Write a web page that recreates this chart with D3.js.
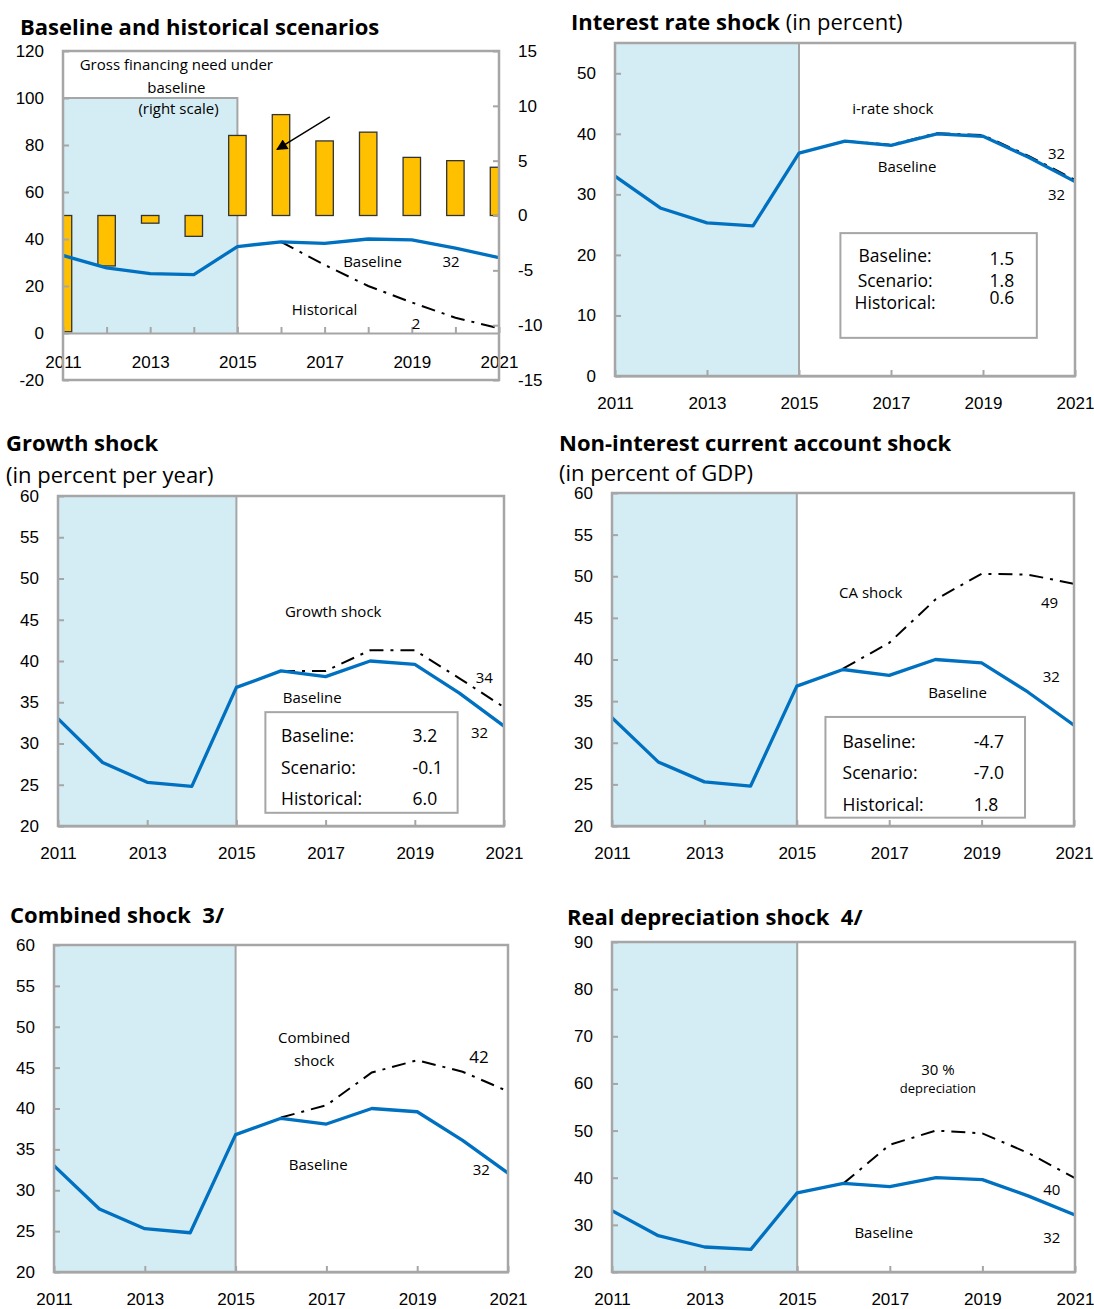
<!DOCTYPE html>
<html>
<head>
<meta charset="utf-8">
<script src="https://cdn.jsdelivr.net/npm/d3@7"></script>
<style>
  body { margin: 0; background: #fff; }
  svg { font-family: "Open Sans", "Noto Sans", sans-serif; }
  text { white-space: pre; }
</style>
</head>
<body>
<svg id="chart" width="1094" height="1309"></svg>
<script>
// ---- data ----
var years = [2011, 2012, 2013, 2014, 2015, 2016, 2017, 2018, 2019, 2020, 2021];
var baseline = [33.0, 27.7, 25.3, 24.8, 36.8, 38.8, 38.1, 40.0, 39.6, 36.1, 32.1];
var grossFinancing = [-10.6, -4.6, -0.7, -1.9, 7.3, 9.2, 6.8, 7.6, 5.3, 5.0, 4.4]; // right scale
var shockYears = [2016, 2017, 2018, 2019, 2020, 2021];
var historical = [38.8, 29.0, 20.0, 13.0, 6.5, 2.0];
var irateShock = [38.8, 38.2, 40.1, 39.8, 36.3, 32.4];
var growthShock = [38.8, 38.8, 41.3, 41.3, 37.9, 34.4];
var caShock = [38.9, 42.0, 47.2, 50.3, 50.2, 49.1];
var combinedShock = [38.9, 40.4, 44.4, 45.9, 44.5, 42.1];
var deprShock = [38.8, 47.0, 50.0, 49.4, 45.2, 39.9];
var labelYears = [2011, 2013, 2015, 2017, 2019, 2021];

var frameCol = "#a6a6a6", shadeCol = "#d4edf4", blue = "#0070c0", gold = "#ffc000";
var dashDot = "14,7,3,7";
var plain = function(d) { return String(d); };   // keep hyphen minus like the original

var svg = d3.select("#chart");
var defs = svg.append("defs");
defs.append("marker").attr("id", "arrow")
  .attr("viewBox", "0 0 10 10").attr("refX", 9).attr("refY", 5)
  .attr("markerWidth", 10).attr("markerHeight", 8).attr("orient", "auto")
  .append("path").attr("d", "M0,0L10,5L0,10z").attr("fill", "#000");

var panelNo = 0;
function drawPanel(o) {
  panelNo++;
  var g = svg.append("g");
  var x = d3.scaleLinear().domain([2011, 2021]).range([o.left, o.right]);
  var y = d3.scaleLinear().domain(o.yDomain).range([o.bottom, o.top]);

  defs.append("clipPath").attr("id", "clip" + panelNo)
    .append("rect").attr("x", o.left).attr("y", o.top)
    .attr("width", o.right - o.left).attr("height", o.bottom - o.top);

  // titles
  var t = g.append("text").attr("x", o.titleX).attr("y", o.titleY)
    .attr("dominant-baseline", "central").attr("font-size", 22).attr("fill", "#000");
  o.title.forEach(function(p) {
    t.append("tspan").attr("font-weight", p[1] ? 700 : 400).text(p[0]);
  });
  if (o.subtitle) {
    g.append("text").attr("x", o.titleX).attr("y", o.subY)
      .attr("dominant-baseline", "central").attr("font-size", 22).text(o.subtitle);
  }

  // shaded history
  var shadeTop = o.shadeTop != null ? o.shadeTop : o.yDomain[1];
  var shadeBot = o.shadeBot != null ? o.shadeBot : o.yDomain[0];
  g.append("rect")
    .attr("x", x(2011)).attr("y", y(shadeTop))
    .attr("width", x(2015) - x(2011)).attr("height", y(shadeBot) - y(shadeTop))
    .attr("fill", shadeCol);
  g.append("path")
    .attr("d", "M" + x(2011) + "," + y(shadeTop) + "H" + x(2015) + "V" + y(shadeBot))
    .attr("fill", "none").attr("stroke", frameCol).attr("stroke-width", 2);

  var plot = g.append("g").attr("clip-path", "url(#clip" + panelNo + ")");

  if (o.extra) o.extra(g, plot, x, y);

  // y axis
  var ya = g.append("g").attr("transform", "translate(" + o.left + ",0)")
    .call(d3.axisLeft(y).tickValues(o.yTicks).tickSize(-6).tickSizeOuter(0).tickPadding(19).tickFormat(plain));
  ya.select(".domain").remove();
  ya.selectAll("line").attr("stroke", frameCol).attr("stroke-width", 2);
  ya.selectAll("text").attr("font-size", 17).attr("fill", "#000").attr("font-family", null);

  // x axis
  var xAxisAt = o.xAxisAt != null ? y(o.xAxisAt) : o.bottom;
  var xa = g.append("g").attr("transform", "translate(0," + xAxisAt + ")")
    .call(d3.axisBottom(x).tickValues(o.xTicks).tickSize(-6).tickSizeOuter(0).tickPadding(o.xPad || 21)
      .tickFormat(function(d) { return labelYears.indexOf(d) >= 0 ? String(d) : ""; }));
  xa.select(".domain").attr("stroke", frameCol).attr("stroke-width", 2);
  xa.selectAll("line").attr("stroke", frameCol).attr("stroke-width", 2);
  xa.selectAll("text").attr("font-size", 17).attr("fill", "#000").attr("font-family", null);

  // scenario line (dash-dot) under the baseline
  if (o.shock) {
    plot.append("path")
      .datum(shockYears.map(function(yr, i) { return [yr, o.shock[i]]; }))
      .attr("d", d3.line().x(function(d) { return x(d[0]); }).y(function(d) { return y(d[1]); }))
      .attr("fill", "none").attr("stroke", "#000").attr("stroke-width", 2)
      .attr("stroke-dasharray", dashDot);
  }
  plot.append("path")
    .datum(years.map(function(yr, i) { return [yr, baseline[i]]; }))
    .attr("d", d3.line().x(function(d) { return x(d[0]); }).y(function(d) { return y(d[1]); }))
    .attr("fill", "none").attr("stroke", blue).attr("stroke-width", 3.3)
    .attr("stroke-linejoin", "round");

  // frame
  g.append("rect").attr("x", o.left).attr("y", o.top)
    .attr("width", o.right - o.left).attr("height", o.bottom - o.top)
    .attr("fill", "none").attr("stroke", frameCol).attr("stroke-width", 2.5);

  // labels
  (o.labels || []).forEach(function(l) {
    g.append("text").attr("x", x(l[1])).attr("y", y(l[2]))
      .attr("text-anchor", l[4] || "middle").attr("dominant-baseline", "central")
      .attr("font-size", l[3] || 15).text(l[0]);
  });

  // stats box
  if (o.box) {
    var b = o.box;
    g.append("rect").attr("x", x(b.x0)).attr("y", y(b.y1))
      .attr("width", x(b.x1) - x(b.x0)).attr("height", y(b.y0) - y(b.y1))
      .attr("fill", "#fff").attr("stroke", frameCol).attr("stroke-width", 2);
    b.rows.forEach(function(r) {
      g.append("text").attr("x", x(b.labelX)).attr("y", y(r[2]))
        .attr("text-anchor", b.anchor).attr("dominant-baseline", "central")
        .attr("font-size", 17.5).text(r[0]);
      g.append("text").attr("x", x(b.valueX)).attr("y", y(r[3]))
        .attr("text-anchor", b.anchor).attr("dominant-baseline", "central")
        .attr("font-size", 17.5).text(r[1]);
    });
  }
}

// ---- 1. Baseline and historical scenarios ----
drawPanel({
  left: 63, right: 499, top: 51, bottom: 380,
  yDomain: [-20, 120], yTicks: [-20, 0, 20, 40, 60, 80, 100, 120],
  xTicks: years, xAxisAt: 0, xPad: 23,
  shadeTop: 100, shadeBot: 0,
  title: [["Baseline and historical scenarios", true]], titleX: 20, titleY: 26,
  shock: historical,
  labels: [
    ["Gross financing need under", 2013.6, 114.4],
    ["baseline", 2013.6, 104.6],
    ["(right scale)", 2013.65, 95.7],
    ["Baseline", 2018.1, 30.6],
    ["32", 2019.9, 30.6],
    ["Historical", 2017.0, 10.2],
    ["2", 2019.1, 4.3]
  ],
  extra: function(g, plot, x, y) {
    var yR = d3.scaleLinear().domain([-15, 15]).range(y.range());
    var bw = (x(2012) - x(2011)) * 0.4;
    plot.selectAll("rect.bar").data(grossFinancing).enter().append("rect")
      .attr("class", "bar")
      .attr("x", function(d, i) { return x(years[i]) - bw / 2; })
      .attr("y", function(d) { return yR(Math.max(0, d)); })
      .attr("width", bw)
      .attr("height", function(d) { return Math.abs(yR(d) - yR(0)); })
      .attr("fill", gold).attr("stroke", "#333").attr("stroke-width", 1.3);
    var ra = g.append("g").attr("transform", "translate(" + x(2021) + ",0)")
      .call(d3.axisRight(yR).tickValues([-15, -10, -5, 0, 5, 10, 15]).tickSize(-6).tickSizeOuter(0).tickPadding(19).tickFormat(plain));
    ra.select(".domain").remove();
    ra.selectAll("line").attr("stroke", frameCol).attr("stroke-width", 2);
    ra.selectAll("text").attr("font-size", 17).attr("fill", "#000").attr("font-family", null);
    g.append("line")
      .attr("x1", x(2017.12)).attr("y1", y(92.0))
      .attr("x2", x(2015.91)).attr("y2", y(78.1))
      .attr("stroke", "#000").attr("stroke-width", 1.4).attr("marker-end", "url(#arrow)");
  }
});

// ---- 2. Interest rate shock ----
drawPanel({
  left: 615, right: 1075, top: 43, bottom: 376,
  yDomain: [0, 55], yTicks: [0, 10, 20, 30, 40, 50],
  xTicks: labelYears,
  title: [["Interest rate shock", true], [" (in percent)", false]], titleX: 571, titleY: 21,
  shock: irateShock,
  labels: [
    ["i-rate shock", 2017.04, 44.3],
    ["Baseline", 2017.35, 34.7],
    ["32", 2020.6, 36.9],
    ["32", 2020.6, 30.1]
  ],
  box: {
    x0: 2015.9, x1: 2020.17, y0: 6.3, y1: 23.6, anchor: "middle",
    labelX: 2017.09, valueX: 2019.41,
    rows: [["Baseline:", "1.5", 20.0, 19.5], ["Scenario:", "1.8", 15.9, 15.8], ["Historical:", "0.6", 12.2, 13.1]]
  }
});

// ---- 3. Growth shock ----
drawPanel({
  left: 58, right: 504, top: 496, bottom: 826,
  yDomain: [20, 60], yTicks: [20, 25, 30, 35, 40, 45, 50, 55, 60],
  xTicks: labelYears,
  title: [["Growth shock", true]], titleX: 6, titleY: 442,
  subtitle: "(in percent per year)", subY: 474,
  shock: growthShock,
  labels: [
    ["Growth shock", 2017.17, 46.1],
    ["Baseline", 2016.7, 35.6],
    ["34", 2020.56, 38.1],
    ["32", 2020.45, 31.4]
  ],
  box: {
    x0: 2015.65, x1: 2019.96, y0: 21.6, y1: 33.8, anchor: "start",
    labelX: 2016.0, valueX: 2018.95,
    rows: [["Baseline:", "3.2", 31.0, 31.0], ["Scenario:", "-0.1", 27.2, 27.2], ["Historical:", "6.0", 23.4, 23.4]]
  }
});

// ---- 4. Non-interest current account shock ----
drawPanel({
  left: 612, right: 1074, top: 493, bottom: 826,
  yDomain: [20, 60], yTicks: [20, 25, 30, 35, 40, 45, 50, 55, 60],
  xTicks: labelYears,
  title: [["Non-interest current account shock", true]], titleX: 559, titleY: 442,
  subtitle: "(in percent of GDP)", subY: 472,
  shock: caShock,
  labels: [
    ["CA shock", 2016.6, 48.1],
    ["49", 2020.47, 46.9],
    ["32", 2020.51, 38.0],
    ["Baseline", 2018.48, 36.1]
  ],
  box: {
    x0: 2015.62, x1: 2019.94, y0: 21.0, y1: 33.1, anchor: "start",
    labelX: 2015.99, valueX: 2018.83,
    rows: [["Baseline:", "-4.7", 30.2, 30.2], ["Scenario:", "-7.0", 26.5, 26.5], ["Historical:", "1.8", 22.6, 22.6]]
  }
});

// ---- 5. Combined shock ----
drawPanel({
  left: 54, right: 508, top: 945, bottom: 1272,
  yDomain: [20, 60], yTicks: [20, 25, 30, 35, 40, 45, 50, 55, 60],
  xTicks: labelYears,
  title: [["Combined shock  3/", true]], titleX: 10, titleY: 914,
  shock: combinedShock,
  labels: [
    ["Combined", 2016.73, 48.7],
    ["shock", 2016.73, 45.9],
    ["42", 2020.36, 46.4, 17],
    ["Baseline", 2016.82, 33.2],
    ["32", 2020.41, 32.6]
  ]
});

// ---- 6. Real depreciation shock ----
drawPanel({
  left: 612, right: 1075, top: 942, bottom: 1272,
  yDomain: [20, 90], yTicks: [20, 30, 40, 50, 60, 70, 80, 90],
  xTicks: labelYears,
  title: [["Real depreciation shock  4/", true]], titleX: 567, titleY: 916,
  shock: deprShock,
  labels: [
    ["30 %", 2018.04, 63.0],
    ["depreciation", 2018.04, 59.0, 13],
    ["40", 2020.5, 37.6],
    ["Baseline", 2016.87, 28.5],
    ["32", 2020.5, 27.4]
  ]
});
</script>
</body>
</html>
